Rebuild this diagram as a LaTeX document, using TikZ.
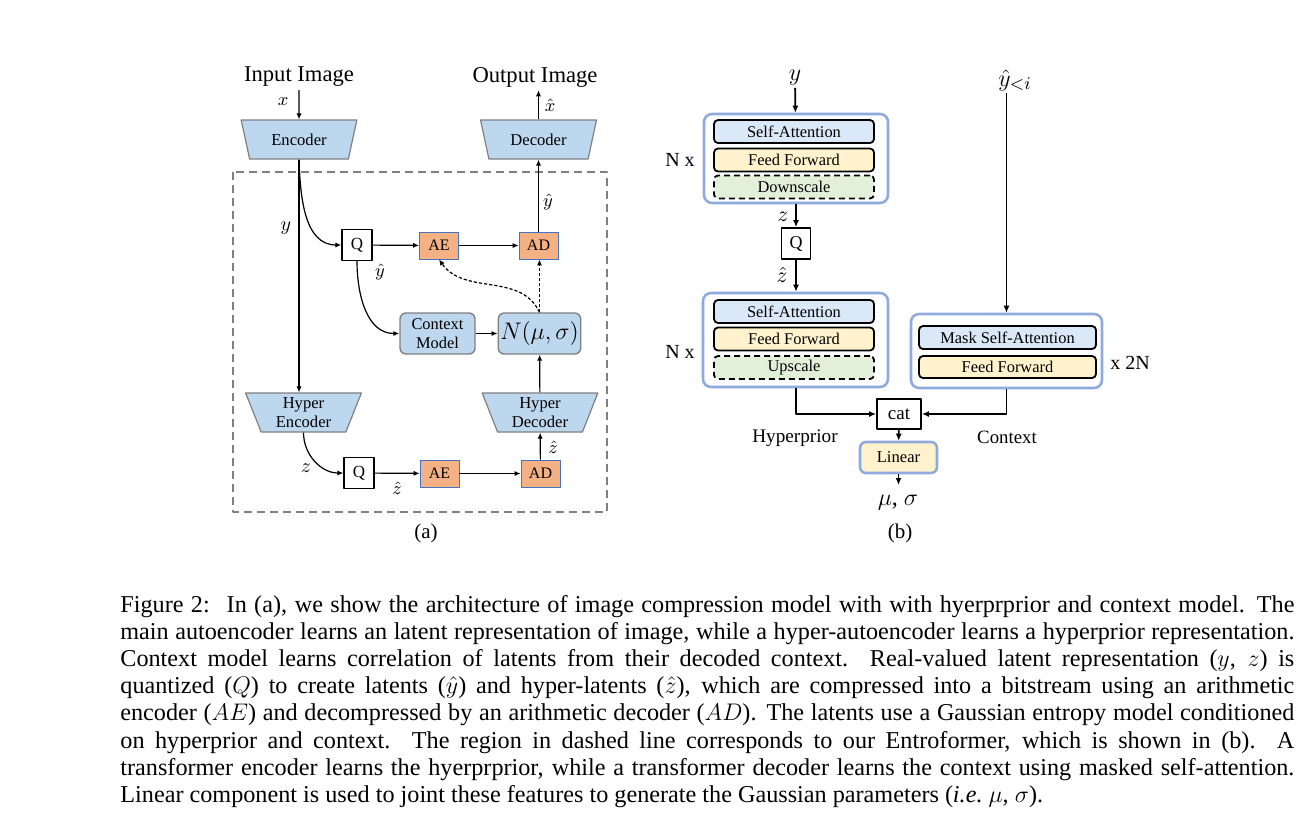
\documentclass[tikz,border=0pt]{standalone}
\usepackage{fontspec}
\setmainfont{Liberation Serif}
\usetikzlibrary{arrows.meta,shapes.geometric,positioning}

\definecolor{modelblue}{HTML}{BDD7EE}
\definecolor{modelgray}{HTML}{808080}
\definecolor{codecorange}{HTML}{F4B183}
\definecolor{codecedge}{HTML}{4472C4}
\definecolor{attblue}{HTML}{DAE8F7}
\definecolor{ffyellow}{HTML}{FFF2CC}
\definecolor{scalegreen}{HTML}{E2F0D9}
\definecolor{blockedge}{HTML}{8FAADC}

\newcommand{\fsz}[2]{\fontsize{#1pt}{#2pt}\selectfont}

\begin{document}
\begin{tikzpicture}[x=0.5pt, y=-0.5pt, line join=round,
    trap/.style={trapezium, trapezium left angle=72, trapezium right angle=72,
        shape border rotate=180, trapezium stretches=true,
        minimum width=58pt, minimum height=19.5pt, inner sep=1pt, align=center,
        fill=modelblue, draw=modelgray, line width=0.6pt, font=\fsz{8.3}{9.3}},
    model/.style={rectangle, rounded corners=3pt, minimum width=37.5pt, minimum height=20.5pt,
        inner sep=1pt, align=center, fill=modelblue, draw=modelgray, line width=0.7pt,
        font=\fsz{8.2}{9.2}},
    qbox/.style={rectangle, draw=black, line width=0.6pt, fill=white,
        minimum width=15pt, minimum height=15.5pt, inner sep=0pt, font=\fsz{8.5}{9}},
    codec/.style={rectangle, draw=codecedge, line width=0.4pt, fill=codecorange,
        minimum width=19.5pt, minimum height=13.5pt, inner sep=0pt, font=\fsz{8}{9}},
    conn/.style={line width=0.6pt, -{Latex[length=3pt,width=2.6pt]}},
    dconn/.style={conn, dash pattern=on 1.6pt off 1pt},
    frame/.style={draw=modelgray, line width=0.7pt, dash pattern=on 4pt off 2.5pt},
    block/.style={rectangle, rounded corners=4pt, draw=blockedge, line width=1.3pt, fill=white},
    layer/.style={rectangle, rounded corners=2pt, draw=black, line width=0.9pt,
        minimum width=80pt, minimum height=11.5pt, inner sep=0pt, font=\fsz{8.2}{9}},
    bconn/.style={line width=0.9pt, -{Latex[length=3.5pt,width=3pt]}},
    lbl/.style={inner sep=1pt},
    capline/.style={inner sep=0pt, anchor=base west, font=\fsz{12.1}{13.6}}]
\useasboundingbox (0,0) rectangle (1313,832);

% (a) compression model
\node[lbl, inner sep=1.5pt, font=\fsz{11.3}{12}] (inimg) at (299,77) {Input Image};
\node[lbl, inner sep=1.5pt, font=\fsz{11.3}{12}] (outimg) at (535,77) {Output Image};
\node[trap] (enc) at (299,139.5) {Encoder};
\node[trap] (dec) at (538.5,139.5) {Decoder};
\node[trap] (henc) at (303.5,412.5) {Hyper\\Encoder};
\node[trap] (hdec) at (540,412.5) {Hyper\\Decoder};
\node[qbox] (qy) at (357,245) {Q};
\node[codec] (aey) at (439,245.5) {AE};
\node[codec] (ady) at (538.5,245.5) {AD};
\node[model] (ctx) at (437.5,333.5) {Context\\Model};
\node[model, font=\fsz{11.5}{12}] (gauss) at (539.5,333.5) {$N(\mu,\sigma)$};
\node[qbox] (qz) at (359,473) {Q};
\node[codec] (aez) at (439.5,473.5) {AE};
\node[codec] (adz) at (540.5,473.5) {AD};
\draw[frame] (233,172) rectangle (607,512);

\draw[conn] (inimg) -- (enc);
\draw[conn] (dec.north) -- (dec.north |- outimg.south);
\draw[conn] (enc.south) -- (enc.south |- henc.north);
\draw[conn] (enc.south) to[out=-88, in=180] (qy.west);
\draw[conn] (qy) -- (aey);
\draw[conn] (aey) -- (ady);
\draw[conn] (ady) -- (dec);
\draw[conn] (qy.south) to[out=-90, in=180] (ctx.west);
\draw[conn] (ctx) -- (gauss);
\draw[conn] (hdec) -- (gauss);
\draw[dconn] (gauss.north) -- (gauss.north |- ady.south);
\draw[dconn] (gauss.north) to[out=115, in=-55] (aey.south);
\draw[conn] (henc.south) to[out=-90, in=180] (qz.west);
\draw[conn] (qz) -- (aez);
\draw[conn] (aez) -- (adz);
\draw[conn] (adz) -- (hdec);

\node[lbl, font=\fsz{9}{10}] (lx) at (283,102) {$x$};
\node[lbl, font=\fsz{9}{10}] (lxh) at (550,105) {$\hat{x}$};
\node[lbl, font=\fsz{10}{11}] (ly) at (286,228) {$y$};
\node[lbl, font=\fsz{9.5}{10}] (lyq) at (380,272) {$\hat{y}$};
\node[lbl, font=\fsz{9.5}{10}] (lyd) at (548,202) {$\hat{y}$};
\node[lbl, font=\fsz{10}{11}] (lz) at (306,468) {$z$};
\node[lbl, font=\fsz{9}{10}] (lzq) at (397,488) {$\hat{z}$};
\node[lbl, font=\fsz{9}{10}] (lzd) at (553,447) {$\hat{z}$};
\node[lbl, font=\fsz{10.5}{11}] (tagA) at (426,533) {(a)};

% (b) entroformer
\node[block, minimum width=92pt, minimum height=44.5pt] (tenc) at (796,158.5) {};
\node[layer, fill=attblue] (saenc) at (794,131.5) {Self-Attention};
\node[layer, fill=ffyellow] (ffenc) at (794,160) {Feed Forward};
\node[layer, fill=scalegreen, dash pattern=on 3pt off 2pt] (down) at (794,187) {Downscale};
\node[block, minimum width=92.5pt, minimum height=47pt] (tdec) at (795.5,340) {};
\node[layer, fill=attblue] (sadec) at (794,311.5) {Self-Attention};
\node[layer, fill=ffyellow] (ffdec) at (794,339) {Feed Forward};
\node[layer, fill=scalegreen, dash pattern=on 3pt off 2pt] (up) at (794,367.5) {Upscale};
\node[block, minimum width=95.5pt, minimum height=37pt] (tctx) at (1006.5,351) {};
\node[layer, fill=attblue, minimum width=88.5pt] (msa) at (1007.5,337.5) {Mask Self-Attention};
\node[layer, fill=ffyellow, minimum width=88.5pt, minimum height=11pt] (ffctx) at (1007.5,367) {Feed Forward};
\node[qbox, minimum width=14.5pt, line width=0.9pt, font=\fsz{9}{10}] (qb) at (796,243.5) {Q};
\node[rectangle, draw=black, line width=0.9pt, minimum width=22pt, minimum height=15pt,
    inner sep=0pt, font=\fsz{9.5}{10}] (cat) at (899,414) {cat};
\node[block, fill=ffyellow, rounded corners=3pt, minimum width=38.5pt, minimum height=15.5pt,
    inner sep=0pt, font=\fsz{8.3}{9}] (lin) at (898.5,457.5) {Linear};
\coordinate (linout) at (898.5,485);

\node[lbl, font=\fsz{10}{11}] (nenc) at (680,160) {N x};
\node[lbl, font=\fsz{10}{11}] (ndec) at (680,352) {N x};
\node[lbl, font=\fsz{10}{11}] (nctx) at (1130,363) {x 2N};
\node[lbl, font=\fsz{13}{14}] (yin) at (795,78) {$y$};
\node[lbl, font=\fsz{13}{14}] (yctx) at (1015,80) {$\hat{y}_{<i}$};
\node[lbl, font=\fsz{10.5}{11}] (lzb) at (783,217) {$z$};
\node[lbl, font=\fsz{10.5}{11}] (lzhb) at (782,275) {$\hat{z}$};
\node[lbl, font=\fsz{12}{13}] (musig) at (898,503) {$\mu$, $\sigma$};
\node[lbl, font=\fsz{9.6}{10}] (hyp) at (795,438) {Hyperprior};
\node[lbl, font=\fsz{9.4}{10}] (cont) at (1007,437) {Context};
\node[lbl, font=\fsz{10.5}{11}] (tagB) at (900,533) {(b)};

\draw[bconn] (yin) -- (tenc);
\draw[bconn] (tctx.north |- yctx.south) -- (tctx.north);
\draw[bconn] (tenc) -- (qb);
\draw[bconn] (qb) -- (qb |- tdec.north);
\draw[bconn] (tdec.south -| qb) |- (cat.west);
\draw[bconn] (tctx.south) |- (cat.east);
\draw[bconn] (cat) -- (lin);
\draw[bconn] (lin) -- (linout);

% caption
\node[capline] (cap1) at (120,612) {\makebox[587pt][s]{Figure 2:\hspace{0.7em}In (a), we show the architecture of image compression model with with hyerprprior and context model. The}};
\node[capline] (cap2) at (120,639.2) {\makebox[587pt][s]{main autoencoder learns an latent representation of image, while a hyper-autoencoder learns a hyperprior representation.}};
\node[capline] (cap3) at (120,666.4) {\makebox[587pt][s]{Context model learns correlation of latents from their decoded context. Real-valued latent representation ($y$, $z$) is}};
\node[capline] (cap4) at (120,693.6) {\makebox[587pt][s]{quantized ($Q$) to create latents ($\hat{y}$) and hyper-latents ($\hat{z}$), which are compressed into a bitstream using an arithmetic}};
\node[capline] (cap5) at (120,720.8) {\makebox[587pt][s]{encoder ($AE$) and decompressed by an arithmetic decoder ($AD$). The latents use a Gaussian entropy model conditioned}};
\node[capline] (cap6) at (120,748) {\makebox[587pt][s]{on hyperprior and context. The region in dashed line corresponds to our Entroformer, which is shown in (b). A}};
\node[capline] (cap7) at (120,775.2) {\makebox[587pt][s]{transformer encoder learns the hyerprprior, while a transformer decoder learns the context using masked self-attention.}};
\node[capline] (cap8) at (120,802.4) {Linear component is used to joint these features to generate the Gaussian parameters (\textit{i.e.}\ $\mu$, $\sigma$).};
\end{tikzpicture}
\end{document}
